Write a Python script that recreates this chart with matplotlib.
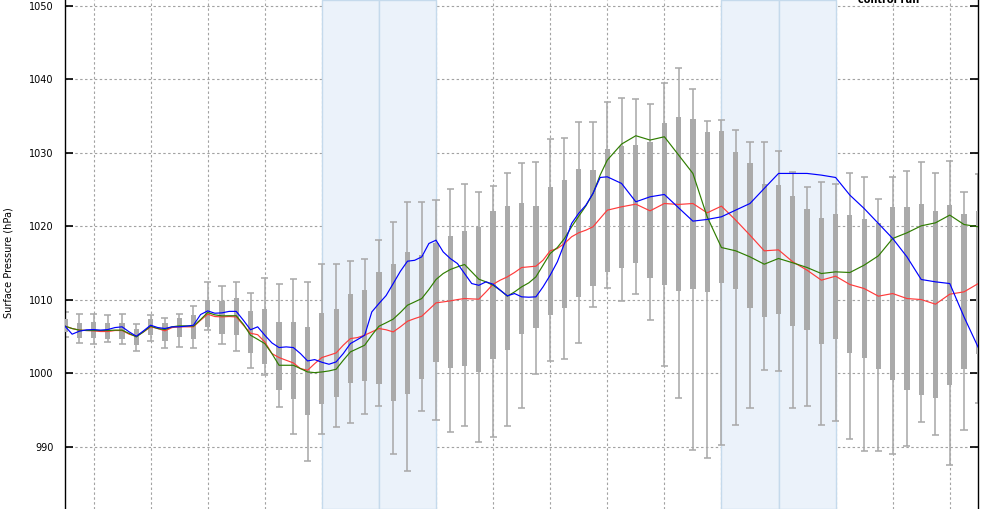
import numpy as np
import matplotlib
matplotlib.use("Agg")
import matplotlib.pyplot as plt

# ---------------- data ----------------
# ensemble box statistics, every 6 hours from the first step
box_hours = list(range(0, 385, 6))
whisker_high = [1008.38, 1008.07, 1008.07, 1007.9, 1008.07, 1006.8, 1007.9, 1007.6, 1008.16, 1009.16,
                1012.4, 1011.85, 1012.48, 1010.89, 1013.06, 1012.15, 1012.79, 1012.5, 1014.96, 1014.96,
                1015.37, 1015.64, 1018.1, 1020.55, 1023.27, 1023.27, 1023.54, 1025.04, 1025.72, 1024.63,
                1025.45, 1027.22, 1028.58, 1028.72, 1031.89, 1032.03, 1034.25, 1034.25, 1036.97, 1037.52,
                1037.38, 1036.7, 1039.47, 1041.51, 1038.75, 1034.39, 1034.52, 1033.16, 1031.44, 1031.44,
                1030.33, 1027.44, 1025.4, 1026.08, 1025.72, 1027.31, 1026.76, 1023.8, 1026.67, 1027.58,
                1028.81, 1027.22, 1028.94, 1024.72, 1027.08]
box_high = [1007.48, 1006.9, 1007.03, 1006.9, 1006.9, 1006.03, 1007.39, 1006.9, 1007.6, 1007.93,
            1009.97, 1009.88, 1010.25, 1008.47, 1008.75, 1006.98, 1006.98, 1006.3, 1008.2, 1008.75,
            1010.79, 1011.33, 1013.78, 1014.9, 1016.51, 1016.1, 1017.78, 1018.69, 1019.37, 1019.96,
            1022.09, 1022.77, 1023.18, 1022.77, 1025.36, 1026.31, 1027.81, 1027.67, 1030.49, 1030.94,
            1031.07, 1031.53, 1034.02, 1034.84, 1034.57, 1032.85, 1032.98, 1030.08, 1028.58, 1025.77,
            1025.61, 1024.13, 1022.32, 1021.09, 1021.68, 1021.55, 1021.0, 1020.41, 1022.59, 1022.59,
            1023.04, 1022.09, 1022.99, 1021.68, 1022.09]
box_low = [1005.66, 1004.85, 1004.85, 1004.66, 1004.66, 1003.9, 1005.21, 1004.44, 1004.98, 1004.66,
           1006.35, 1005.37, 1005.26, 1002.8, 1001.3, 997.76, 996.54, 994.36, 995.86, 996.81,
           998.72, 999.03, 998.58, 996.27, 997.22, 999.26, 1001.58, 1000.71, 1000.99, 1000.17,
           1001.94, 1003.17, 1005.34, 1006.16, 1007.98, 1008.88, 1010.43, 1011.92, 1013.83, 1014.37,
           1015.05, 1013.01, 1012.06, 1011.24, 1011.52, 1011.11, 1012.33, 1011.52, 1008.93, 1007.7,
           1008.13, 1006.48, 1005.89, 1004.03, 1004.71, 1002.8, 1002.12, 1000.62, 999.17, 997.81,
           997.08, 996.72, 998.45, 1000.62, 1002.71]
whisker_low = [1005.0, 1004.2, 1004.08, 1004.35, 1004.0, 1003.03, 1004.44, 1003.53, 1003.62, 1003.53,
               1005.98, 1003.97, 1003.03, 1000.69, 999.85, 995.4, 991.73, 988.1, 991.73, 992.77,
               993.23, 994.45, 995.63, 989.0, 986.78, 994.95, 993.73, 992.09, 992.91, 990.73,
               991.41, 992.91, 995.36, 999.99, 1001.76, 1002.03, 1004.21, 1009.07, 1011.65, 1009.84,
               1010.88, 1007.34, 1000.99, 996.72, 989.55, 988.55, 990.32, 993.0, 995.36, 1000.53,
               1000.28, 995.36, 995.63, 993.05, 993.59, 991.14, 989.51, 989.51, 989.1, 990.09,
               993.36, 991.59, 987.51, 992.36, 996.04]

# deterministic runs: 3-hourly to 228 h, then 6-hourly
line_hours = list(range(0, 229, 3)) + list(range(234, 385, 6))
blue_run = [1006.44, 1005.35, 1005.75, 1005.94, 1005.98, 1005.9, 1005.98, 1006.25, 1006.35, 1005.66,
            1005.07, 1005.8, 1006.57, 1006.25, 1006.12, 1006.35, 1006.35, 1006.44, 1006.57, 1008.02,
            1008.52, 1008.2, 1008.25, 1008.45, 1008.45, 1007.25, 1005.95, 1006.35,
            1005.21, 1004.16, 1003.53, 1003.62, 1003.53, 1002.71, 1001.71, 1001.89, 1001.53, 1001.26,
            1001.58, 1002.71, 1004.07, 1004.62, 1005.21, 1008.38, 1009.52,
            1010.6, 1012.24, 1013.9,
            1015.28, 1015.4, 1015.87, 1017.69, 1018.14, 1016.55, 1015.64, 1014.96, 1013.6, 1012.24,
            1012.0, 1012.47, 1012.15, 1011.33, 1010.56, 1010.88, 1010.43, 1010.38, 1010.43, 1011.79,
            1013.38, 1015.19, 1017.69, 1020.41, 1021.8,
            1022.9, 1024.5, 1026.67, 1026.76,
            1025.86, 1023.36, 1024.04, 1024.36, 1022.54, 1020.73, 1020.96, 1021.32, 1022.23, 1023.13,
            1025.18, 1027.22, 1027.22, 1027.22, 1026.99, 1026.67, 1024.27, 1022.45, 1020.41, 1018.37,
            1015.87, 1012.79, 1012.47, 1012.24, 1007.7, 1003.53]
green_run = [1006.44, 1006.12, 1005.9, 1005.85, 1005.85, 1005.85, 1005.85, 1005.9, 1005.9, 1005.44,
             1004.98, 1005.66, 1006.44, 1006.12, 1005.98, 1006.35, 1006.48, 1006.48, 1006.44, 1007.34,
             1008.3, 1007.98, 1007.84, 1007.86, 1007.86, 1006.7, 1005.21, 1004.65,
             1004.07, 1002.71, 1001.12, 1001.12, 1001.12, 1000.67, 1000.21, 1000.12, 1000.21, 1000.35,
             1000.58, 1001.8, 1002.94, 1003.39, 1003.85, 1005.21, 1006.43,
             1006.9, 1007.4, 1008.3,
             1009.29, 1009.74, 1010.2, 1011.43, 1012.79, 1013.6, 1014.15, 1014.51, 1014.83, 1013.83,
             1012.83, 1012.47, 1012.0, 1011.33, 1010.52, 1011.1, 1011.79, 1012.33, 1013.15, 1014.74,
             1016.33, 1017.14, 1018.37, 1019.96, 1021.4,
             1022.8, 1024.5, 1026.99, 1029.03,
             1031.21, 1032.35, 1031.76, 1032.21, 1029.72, 1027.22, 1021.32, 1017.14, 1016.69, 1015.87,
             1014.87, 1015.65, 1015.06, 1014.42, 1013.6, 1013.83, 1013.74, 1014.74, 1016.01, 1018.37,
             1019.14, 1020.09, 1020.5, 1021.55, 1020.27, 1019.96]
red_run = [1006.44, 1006.12, 1005.9, 1005.85, 1005.8, 1005.71, 1005.71, 1005.85, 1005.85, 1005.35,
           1005.07, 1005.66, 1006.35, 1006.12, 1005.8, 1006.25, 1006.35, 1006.35, 1006.35, 1007.25,
           1008.07, 1007.75, 1007.7, 1007.75, 1007.7, 1006.57, 1005.48, 1005.28,
           1004.3, 1002.71, 1002.17, 1001.8, 1001.44, 1000.67, 1000.44, 1001.35, 1002.17, 1002.48,
           1002.8, 1003.85, 1004.75, 1004.89, 1005.21, 1005.66, 1006.12,
           1005.95, 1005.66, 1006.35,
           1007.11, 1007.47, 1007.79, 1008.7, 1009.61, 1009.74, 1009.88, 1010.06, 1010.2, 1010.15,
           1010.11, 1011.1, 1012.15, 1012.7, 1013.15, 1013.74, 1014.42, 1014.51, 1014.6, 1015.42,
           1016.69, 1017.0, 1017.69, 1018.6, 1019.15,
           1019.5, 1019.96, 1021.1, 1022.22,
           1022.68, 1023.04, 1022.13, 1023.13, 1023.0, 1023.13, 1021.86, 1022.77, 1020.87, 1018.82,
           1016.69, 1016.82, 1015.19, 1014.06, 1012.7, 1013.24, 1012.11, 1011.56, 1010.52, 1010.88,
           1010.2, 1010.06, 1009.43, 1010.79, 1011.11, 1012.24]

# shaded periods (days from the first gridline)
shaded_days = [(4, 5), (5, 6), (11, 12), (12, 13)]
y_ticks = [990, 1000, 1010, 1020, 1030, 1040, 1050]
day_ticks = list(range(0, 16))
y_label = "Surface Pressure (hPa)"
legend_label = "control run"

# ---------------- plot ----------------
W, H = 1000, 509
fig = plt.figure(figsize=(W / 100, H / 100), dpi=100)
left_px, right_px = 65, 978.3
ax = fig.add_axes([left_px / W, 0, (right_px - left_px) / W, 1])

def to_day(hours):
    return -0.5 + np.asarray(hours, dtype=float) / 24.0

bt = to_day(box_hours)
lt = to_day(line_hours)

grid_col = "#a2a2a2"
for d in day_ticks:
    ax.axvline(d, color=grid_col, lw=0.8, ls=(0, (2.2, 2.2)), zorder=0)
for yv in y_ticks:
    ax.axhline(yv, color=grid_col, lw=0.8, ls=(0, (2.2, 2.2)), zorder=0)

for a, b in shaded_days:
    ax.axvspan(a, b, facecolor="#ebf2fa", edgecolor="#c5daec", lw=1.0, zorder=1)

box_col = "#aaaaaa"
ax.vlines(bt, whisker_low, whisker_high, color=box_col, lw=1.15, zorder=2)
cap = 0.062
ax.hlines(whisker_high, bt - cap, bt + cap, color=box_col, lw=1.15, zorder=2)
ax.hlines(whisker_low, bt - cap, bt + cap, color=box_col, lw=1.15, zorder=2)
ax.bar(bt, np.array(box_high) - np.array(box_low), bottom=box_low, width=0.092,
       color=box_col, edgecolor="none", zorder=3)

ax.plot(lt, red_run, color="#ff3b3b", lw=0.85, zorder=4)
ax.plot(lt, green_run, color="#2f7d00", lw=0.85, zorder=5)
ax.plot(lt, blue_run, color="#0000ff", lw=0.85, zorder=6)

ax.set_xlim(-0.5, 15.5)
ax.set_ylim(1050 - 503 / 7.35, 1050 + 6 / 7.35)
ax.set_xticks(day_ticks)
ax.set_xticklabels([])
ax.tick_params(axis="x", length=0)
ax.set_yticks(y_ticks)
ax.tick_params(axis="y", direction="in", length=6, width=1.2, labelsize=7,
               pad=8, right=True, labelright=False)
for s in ("top", "bottom"):
    ax.spines[s].set_visible(False)
for s in ("left", "right"):
    ax.spines[s].set_linewidth(1.0)

fig.text(8.5 / W, 1 - 263 / H, y_label, rotation=90, ha="center", va="center", fontsize=7)
fig.text(889 / W, 1 - 3 / H, legend_label, ha="center", va="baseline", fontsize=7,
         fontweight="bold")

fig.savefig("out.png", dpi=100)
